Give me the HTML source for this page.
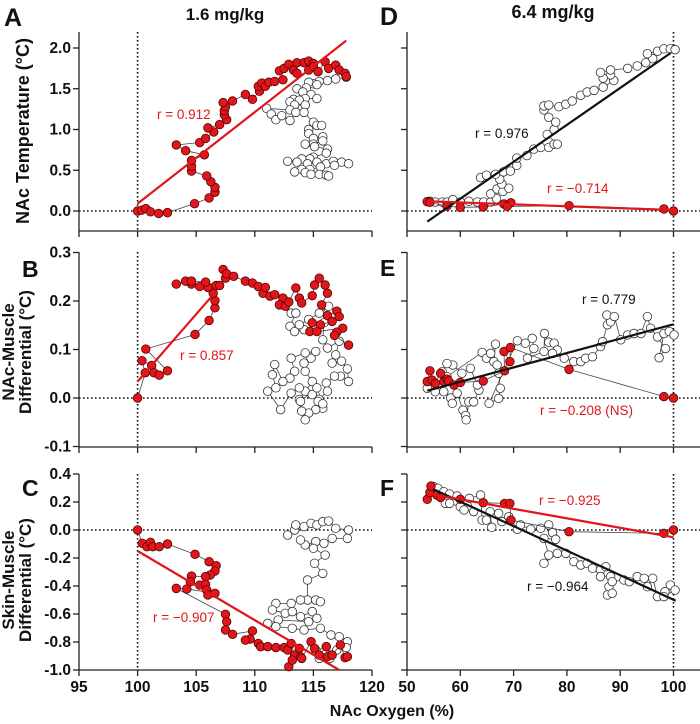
<!DOCTYPE html>
<html><head><meta charset="utf-8"><style>
html,body{margin:0;padding:0;background:#fff;}
svg{display:block;font-family:"Liberation Sans",Arial,sans-serif;}
.tick{font-weight:bold;font-size:15.5px;fill:#111;}
</style></head><body>
<svg id="chart" width="700" height="724" viewBox="0 0 700 724">
<g id="layer"></g>
</svg>
<script>
// ---------- data ----------
const aRed=[[100,0],[100.34,0.01],[100.7,0.03],[101.1,-0.01],[101.8,-0.03],[102.55,-0.02],[104.86,0.09],[106.1,0.16],[106.6,0.23],[106.6,0.29],[106.25,0.36],[105.9,0.43],[104.6,0.49],[104.6,0.55],[104.6,0.62],[105.7,0.69],[104.1,0.74],[103.3,0.81],[105.3,0.84],[105.8,0.89],[106.5,0.97],[106.0,1.02],[107.0,1.06],[107.6,1.12],[107.4,1.18],[107.4,1.23],[107.5,1.28],[107.3,1.33],[108.1,1.35],[109.2,1.43],[109.8,1.37],[110.4,1.47],[110.3,1.53],[110.6,1.57],[110.9,1.53],[111.2,1.58],[111.7,1.59],[112.4,1.61],[112.1,1.72],[112.5,1.75],[112.9,1.80],[113.3,1.73],[113.6,1.69],[113.6,1.82],[114.2,1.82],[114.6,1.84],[115.0,1.81],[114.6,1.73],[115.0,1.77],[115.4,1.71],[116.0,1.83],[116.3,1.75],[116.9,1.79],[117.2,1.73],[117.7,1.69],[117.8,1.65]];
const aWhite=[[117.8,1.64],[116.9,1.62],[116.2,1.60],[115.5,1.59],[115.0,1.56],[114.6,1.58],[115.3,1.55],[114.4,1.51],[113.6,1.50],[114.1,1.46],[114.8,1.43],[115.3,1.38],[114.3,1.38],[113.3,1.37],[113.0,1.34],[113.8,1.36],[114.3,1.30],[113.4,1.30],[113.0,1.24],[111.0,1.26],[111.4,1.19],[111.8,1.12],[112.3,1.17],[113.0,1.11],[113.5,1.21],[114.2,1.21],[115.0,1.09],[115.3,1.05],[115.7,1.05],[114.6,1.00],[114.6,0.95],[115.0,0.89],[115.8,0.91],[115.8,0.86],[115.0,0.82],[114.3,0.82],[115.1,0.79],[116.2,0.76],[116.1,0.71],[115.0,0.66],[114.7,0.64],[114.0,0.64],[112.8,0.61],[113.6,0.60],[114.5,0.58],[115.3,0.60],[116.1,0.58],[116.7,0.61],[117.4,0.60],[118.0,0.58],[116.8,0.56],[115.6,0.54],[114.7,0.51],[114.0,0.51],[113.4,0.48],[114.3,0.47],[114.8,0.45],[115.5,0.45],[116.1,0.44],[116.3,0.43]];
const aFit=[[100,0.09],[117.8,2.09]];
const bRed=[[100,0],[100.65,0.052],[100.37,0.077],[101.2,0.067],[101.4,0.052],[101.85,0.047],[102.55,0.056],[100.7,0.101],[104.9,0.131],[106.1,0.160],[106.6,0.186],[106.6,0.201],[106.45,0.216],[106.0,0.228],[105.3,0.230],[104.6,0.235],[104.1,0.241],[103.3,0.235],[104.6,0.241],[105.8,0.239],[106.7,0.232],[107.0,0.232],[107.5,0.247],[107.3,0.265],[107.6,0.256],[108.2,0.251],[109.2,0.241],[109.8,0.237],[110.3,0.230],[110.7,0.216],[110.9,0.228],[111.3,0.210],[111.7,0.213],[112.4,0.206],[112.1,0.192],[112.6,0.189],[112.9,0.198],[113.5,0.227],[113.8,0.206],[114.0,0.196],[114.9,0.211],[115.1,0.233],[115.5,0.247],[116.0,0.233],[116.2,0.216],[115.7,0.192],[116.2,0.170],[117.0,0.179],[117.2,0.168],[116.6,0.158],[115.6,0.151],[114.9,0.155],[114.7,0.137],[115.3,0.137],[117.5,0.144],[117.0,0.136],[116.8,0.129],[118.0,0.109]];
const bWhite=[[113.1,0.175],[113.5,0.175],[113.0,0.148],[113.4,0.137],[114.2,0.141],[113.8,0.151],[114.6,0.162],[115.5,0.175],[116.3,0.189],[115.9,0.155],[115.8,0.120],[116.2,0.103],[117.2,0.117],[116.9,0.089],[116.6,0.072],[117.4,0.076],[117.9,0.060],[118.0,0.034],[117.3,0.045],[116.8,0.045],[116.1,0.031],[116.2,0.014],[115.5,-0.003],[115.8,-0.021],[115.2,-0.024],[114.6,-0.031],[114.3,-0.045],[114.0,-0.027],[113.8,-0.003],[114.3,0.014],[114.9,0.034],[114.3,0.055],[114.2,0.072],[114.8,0.082],[115.2,0.096],[114.3,0.093],[113.1,0.082],[113.4,0.055],[113.0,0.041],[112.4,0.034],[111.7,0.069],[111.5,0.048],[111.8,0.021],[111.1,0.014],[112.2,-0.024],[113.1,0.010],[113.8,0.021],[114.9,0.007],[115.4,-0.007],[115.8,-0.012],[115.3,0.021],[113.9,-0.007]];
const bFit=[[100,0.034],[106.7,0.220]];
const cRed=[[100,0],[100.4,-0.095],[100.8,-0.119],[101.1,-0.088],[101.3,-0.119],[101.85,-0.119],[102.55,-0.1],[104.9,-0.174],[106.1,-0.226],[106.7,-0.255],[106.6,-0.293],[106.2,-0.321],[105.8,-0.333],[104.6,-0.329],[104.5,-0.369],[105.3,-0.393],[105.8,-0.388],[105.9,-0.429],[106.0,-0.464],[106.6,-0.452],[104.2,-0.421],[103.3,-0.417],[107.5,-0.602],[107.6,-0.655],[107.5,-0.714],[108.1,-0.745],[109.8,-0.721],[109.6,-0.779],[109.2,-0.786],[110.3,-0.81],[110.5,-0.833],[111.1,-0.833],[111.8,-0.84],[112.5,-0.84],[112.8,-0.857],[113.1,-0.81],[113.4,-0.893],[113.8,-0.845],[113.9,-0.905],[112.9,-0.976],[113.2,-0.929],[114.0,-0.917],[114.8,-0.798],[115.1,-0.845],[115.5,-0.893],[116.1,-0.833],[116.2,-0.905],[116.6,-0.893],[117.3,-0.821],[117.7,-0.912],[117.9,-0.905]];
const cWhite=[[112.8,-0.036],[113.4,0],[113.5,0.036],[114.2,0.024],[114.8,0.048],[115.3,0.036],[115.8,0.06],[116.3,0.064],[116.9,0.012],[118.0,0],[117.9,-0.06],[116.6,-0.06],[115.9,-0.095],[115.2,-0.083],[114.3,-0.107],[113.9,-0.071],[115.0,-0.131],[116.0,-0.179],[115.1,-0.238],[115.8,-0.31],[114.5,-0.357],[114.5,-0.5],[115.2,-0.5],[115.6,-0.512],[113.9,-0.5],[113.1,-0.524],[111.8,-0.524],[111.5,-0.571],[112.6,-0.595],[113.2,-0.583],[113.9,-0.619],[114.9,-0.583],[115.3,-0.631],[114.6,-0.655],[112.0,-0.643],[111.1,-0.667],[111.8,-0.69],[113.2,-0.702],[114.2,-0.714],[115.6,-0.702],[116.5,-0.75],[117.2,-0.762],[117.9,-0.798],[117.8,-0.84],[117.0,-0.857],[115.9,-0.869],[115.2,-0.857],[115.5,-0.917],[116.4,-0.917]];
const cFit=[[100,-0.15],[117.2,-1.0]];
const dWhite=[[54.3,0.12],[55.3,0.11],[56.6,0.11],[57.5,0.11],[58.6,0.14],[60,0.11],[61.6,0.12],[63.2,0.11],[64.4,0.11],[65.7,0.11],[66.8,0.15],[65.7,0.21],[66.9,0.27],[68.0,0.24],[69.1,0.28],[67.8,0.33],[67.4,0.39],[66.6,0.45],[63.8,0.41],[64.9,0.44],[68.1,0.48],[69.4,0.49],[70.6,0.56],[70.6,0.65],[72.5,0.68],[73.8,0.76],[75.1,0.78],[76.6,0.78],[77.6,0.82],[78.2,0.82],[76.3,0.94],[77.6,1.0],[77.9,1.09],[76.6,1.15],[75.7,1.24],[75.7,1.29],[76.6,1.3],[78.5,1.28],[79.8,1.31],[81.0,1.35],[82.6,1.42],[83.8,1.46],[85.1,1.48],[86.8,1.52],[88.8,1.6],[88.2,1.67],[86.8,1.63],[86.3,1.7],[88.2,1.73],[91.4,1.75],[93.2,1.78],[94.8,1.82],[96.1,1.87],[95.1,1.93],[97.0,1.96],[98.2,1.99],[99.4,1.99],[100.3,1.98]];
const dRed=[[53.8,0.115],[54.3,0.106],[57.5,0.06],[60,0.045],[64.3,0.05],[68.2,0.086],[69.5,0.1],[68.8,0.057],[80.4,0.065],[98.2,0.025],[100,0]];
const dFitWhite=[[53.8,-0.13],[99.5,1.94]];
const dFitRed=[[53.8,0.12],[100,0.01]];
const eWhite=[[53.8,0.020],[55.3,0.013],[56.9,0.013],[58.2,0],[58.5,-0.011],[59.4,0.01],[60.5,-0.025],[61.0,-0.036],[61.1,-0.045],[61.6,-0.008],[62.5,-0.008],[63.5,0.016],[63.2,0.027],[61.9,0.061],[60.3,0.051],[58.6,0.068],[57.5,0.071],[56.6,0.054],[57.5,0.044],[64.1,0.094],[64.9,0.082],[65.7,0.092],[66.6,0.111],[66.3,0.075],[66.9,0.068],[67.2,0.051],[67.5,0.02],[67.2,-0.001],[65.4,-0.011],[70.7,0.118],[72.2,0.113],[73.5,0.123],[73.8,0.102],[72.6,0.082],[75.7,0.096],[75.8,0.133],[76.6,0.115],[77.6,0.113],[78.2,0.099],[77.3,0.092],[79.5,0.082],[81.3,0.075],[82.6,0.075],[83.5,0.082],[84.8,0.085],[86.3,0.106],[86.7,0.116],[87.6,0.151],[88.2,0.157],[87.5,0.171],[88.9,0.168],[90.1,0.120],[91.4,0.130],[92.6,0.133],[93.9,0.133],[95.1,0.168],[95.7,0.144],[97.0,0.126],[98.5,0.102],[97.3,0.083],[98.2,0.133],[99.2,0.137],[100.1,0.130]];
const eRed=[[53.8,0.034],[54.3,0.056],[54.7,0.037],[55.3,0.030],[56.3,0.051],[56.9,0.034],[57.5,0.039],[57.8,0.035],[58.8,0.027],[60.0,0.032],[64.3,0.035],[68.3,0.056],[68.2,0.096],[69.3,0.075],[69.4,0.104],[80.4,0.059],[98.2,0.003],[100,0]];
const eFitWhite=[[53.8,0.015],[100,0.152]];
const fWhite=[[55,0.31],[55.8,0.298],[56.9,0.274],[58.0,0.257],[59.4,0.243],[57.2,0.19],[58.0,0.19],[60,0.167],[60.7,0.143],[62.5,0.131],[61.7,0.226],[63.8,0.25],[64.1,0.071],[64.9,0.071],[65.9,0.019],[65.6,0.131],[67.2,0.119],[67.8,0.06],[69.1,0.095],[70.7,0.005],[71.3,0.036],[73.2,0.005],[75.1,0.012],[76.6,0.036],[77.3,-0.019],[77.9,-0.067],[75.7,-0.06],[76.6,-0.179],[75.7,-0.238],[78.2,-0.167],[79.8,-0.167],[81.3,-0.226],[82.6,-0.25],[83.8,-0.238],[84.8,-0.274],[86.3,-0.286],[87.3,-0.262],[86.3,-0.333],[88.2,-0.333],[87.9,-0.405],[87.6,-0.464],[88.5,-0.452],[88.5,-0.369],[90.7,-0.357],[91.7,-0.369],[93.2,-0.333],[94.5,-0.345],[95.1,-0.405],[96.1,-0.345],[97.0,-0.476],[98.4,-0.44],[99.4,-0.393],[100.3,-0.429],[98.2,-0.476]];
const fRed=[[53.8,0.219],[54.3,0.267],[54.5,0.314],[55.6,0.25],[56.3,0.233],[60,0.219],[64.3,0.195],[68.3,0.19],[69.3,0.19],[69.5,0.071],[80.4,-0.012],[98.2,-0.024],[100,0]];
const fFitWhite=[[55,0.29],[100.4,-0.505]];
const fFitRed=[[54.4,0.257],[100,-0.052]];
const leftXTicks=[95,100,105,110,115,120];
const rightXTicks=[50,60,70,80,90,100];
const aYTicks=["0.0","0.5","1.0","1.5","2.0"];
const bYTicks=["-0.1","0.0","0.1","0.2","0.3"];
const cYTicks=["-1.0","-0.8","-0.6","-0.4","-0.2","0.0","0.2","0.4"];

// ---------- helpers ----------
const NS='http://www.w3.org/2000/svg';
const layer=document.getElementById('layer');
function mk(tag,attrs,parent,txt){const e=document.createElementNS(NS,tag);for(const k in attrs)e.setAttribute(k,attrs[k]);if(txt!==undefined)e.textContent=txt;(parent||layer).appendChild(e);return e;}
const xL=v=>79+(v-95)*11.72;
const xR=v=>407+(v-50)*5.33;
const yA=v=>211-v*81.5;
const yB=v=>398-v*485;
const yC=v=>530-v*140;

function panel(name,xs,ys,xMin,xMax,yTop,yBot,xTicks,yTicks,showXLabels,showYLabels,rightEdge){
  const g=mk('g',{});
  
  
  const x0=xs(xMin), x1=rightEdge||xs(xMax);
  const hz=mk('line',{x1:x0,x2:x1,y1:ys(0),y2:ys(0),stroke:'#111','stroke-width':1.6,'stroke-dasharray':'1.6 2.4'},g);
  
  
  const vz=mk('line',{x1:xs(100),x2:xs(100),y1:yTop,y2:yBot,stroke:'#111','stroke-width':1.6,'stroke-dasharray':'1.6 2.4'},g);
  
  
  const ya=mk('line',{x1:x0,x2:x0,y1:yTop,y2:yBot,stroke:'#222','stroke-width':1.3},g);
  
  
  const xa=mk('line',{x1:x0,x2:x1,y1:yBot,y2:yBot,stroke:'#222','stroke-width':1.3},g);
  
  
  xTicks.forEach(t=>{
    const tk=mk('line',{x1:xs(t),x2:xs(t),y1:yBot,y2:yBot+6,stroke:'#222','stroke-width':1.3},g);
    
    
    if(showXLabels){
      const tl=mk('text',{x:xs(t),y:yBot+22,'text-anchor':'middle',class:'tick'},g,String(t));
      
      
    }
  });
  yTicks.forEach(t=>{
    const v=parseFloat(t);
    const tk=mk('line',{x1:x0-6,x2:x0,y1:ys(v),y2:ys(v),stroke:'#222','stroke-width':1.3},g);
    
    
    if(showYLabels){
      const tl=mk('text',{x:x0-8,y:ys(v)+5,'text-anchor':'end',class:'tick'},g,t);
      
      
    }
  });
  return g;
}
function series(g,data,xs,ys,fill,r,name){
  const pts=data.map(d=>xs(d[0])+','+ys(d[1])).join(' ');
  const pl=mk('polyline',{points:pts,fill:'none',stroke:'#444','stroke-width':0.8},g);
  
  
  data.forEach(d=>{
    const c=mk('circle',{cx:xs(d[0]),cy:ys(d[1]),r:r,fill:fill,stroke:fill==='#fff'?'#333':'#5a0000','stroke-width':0.8},g);
    
    
  });
}
function fit(g,data,xs,ys,color,name){
  const l=mk('line',{x1:xs(data[0][0]),y1:ys(data[0][1]),x2:xs(data[1][0]),y2:ys(data[1][1]),stroke:color,'stroke-width':2.2},g);
  
  
}
function label(g,x,y,txt,color,name){
  const t=mk('text',{x:x,y:y,fill:color,'font-size':'13.5px'},g,txt);
  
  
}
const RED='#e0161b';

let g=panel('panel-a',xL,yA,95,120,32,231,leftXTicks,aYTicks,false,true);
series(g,aWhite,xL,yA,'#fff',4.3,'saline-a');
series(g,aRed,xL,yA,RED,4.3,'drug-a');
fit(g,aFit,xL,yA,RED,'regression-line-a');
label(g,157,119,'r = 0.912',RED,'correlation-label-a');
g=panel('panel-b',xL,yB,95,120,252,447,leftXTicks,bYTicks,false,true);
series(g,bWhite,xL,yB,'#fff',4.3,'saline-b');
series(g,bRed,xL,yB,RED,4.3,'drug-b');
fit(g,bFit,xL,yB,RED,'regression-line-b');
label(g,180,360,'r = 0.857',RED,'correlation-label-b');
g=panel('panel-c',xL,yC,95,120,474,670,leftXTicks,cYTicks,true,true);
series(g,cWhite,xL,yC,'#fff',4.3,'saline-c');
series(g,cRed,xL,yC,RED,4.3,'drug-c');
fit(g,cFit,xL,yC,RED,'regression-line-c');
label(g,153,622,'r = \u22120.907',RED,'correlation-label-c');
g=panel('panel-d',xR,yA,50,105,32,231,rightXTicks,aYTicks,false,false,700);
series(g,dWhite,xR,yA,'#fff',4.3,'saline-d');
series(g,dRed,xR,yA,RED,4.3,'drug-d');
fit(g,dFitWhite,xR,yA,'#111','regression-line-d-black');
fit(g,dFitRed,xR,yA,RED,'regression-line-d-red');
label(g,475,138,'r = 0.976','#111','correlation-label-d-black');
label(g,547,193,'r = \u22120.714',RED,'correlation-label-d-red');
g=panel('panel-e',xR,yB,50,105,252,447,rightXTicks,bYTicks,false,false,700);
series(g,eWhite,xR,yB,'#fff',4.3,'saline-e');
series(g,eRed,xR,yB,RED,4.3,'drug-e');
fit(g,eFitWhite,xR,yB,'#111','regression-line-e-black');
label(g,582,304,'r = 0.779','#111','correlation-label-e-black');
label(g,540,415,'r = \u22120.208 (NS)',RED,'correlation-label-e-red');
g=panel('panel-f',xR,yC,50,105,474,670,rightXTicks,cYTicks,true,false,700);
series(g,fWhite,xR,yC,'#fff',4.3,'saline-f');
series(g,fRed,xR,yC,RED,4.3,'drug-f');
fit(g,fFitWhite,xR,yC,'#111','regression-line-f-black');
fit(g,fFitRed,xR,yC,RED,'regression-line-f-red');
label(g,539,505,'r = \u22120.925',RED,'correlation-label-f-red');
label(g,527,591,'r = \u22120.964','#111','correlation-label-f-black');
</script>
<script>
const svg=document.getElementById('chart');
function T(x,y,txt,size,name,extra){
  const t=document.createElementNS('http://www.w3.org/2000/svg','text');
  t.setAttribute('x',x);t.setAttribute('y',y);
  t.setAttribute('font-size',size);t.setAttribute('font-weight','bold');t.setAttribute('fill','#111');
  if(extra)for(const k in extra)t.setAttribute(k,extra[k]);
  t.textContent=txt;
  
  
  svg.appendChild(t);
}
T(4,26,'A','25px','panel-letter-a');
T(22,277,'B','23px','panel-letter-b');
T(22,496,'C','23px','panel-letter-c');
T(380,25,'D','25px','panel-letter-d');
T(380,276,'E','23px','panel-letter-e');
T(380,496,'F','23px','panel-letter-f');
T(225,20,'1.6 mg/kg','17px','title-low-dose',{'text-anchor':'middle'});
T(553,18,'6.4 mg/kg','18px','title-high-dose',{'text-anchor':'middle'});
T(392,716,'NAc Oxygen (%)','16px','x-axis-title',{'text-anchor':'middle'});
T(0,0,'NAc Temperature (\u00B0C)','18px','y-axis-title-a',{'text-anchor':'middle',transform:'translate(29,131) rotate(-90)'});
T(0,0,'NAc-Muscle','17px','y-axis-title-b-line1',{'text-anchor':'middle',transform:'translate(14,352) rotate(-90)'});
T(0,0,'Differential (\u00B0C)','17px','y-axis-title-b-line2',{'text-anchor':'middle',transform:'translate(31,352) rotate(-90)'});
T(0,0,'Skin-Muscle','17px','y-axis-title-c-line1',{'text-anchor':'middle',transform:'translate(14,580) rotate(-90)'});
T(0,0,'Differential (\u00B0C)','17px','y-axis-title-c-line2',{'text-anchor':'middle',transform:'translate(31,580) rotate(-90)'});
</script>
</body></html>
